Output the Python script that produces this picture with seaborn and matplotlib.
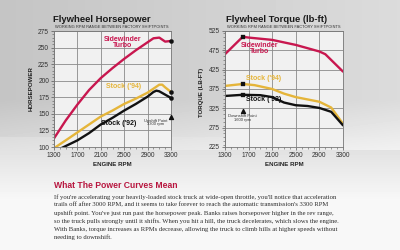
import numpy as np
import pandas as pd
import seaborn as sns
import matplotlib.pyplot as plt
from matplotlib.ticker import MultipleLocator

# flywheel horsepower
hp_turbo_rpm = [1300, 1500, 1700, 1900, 2100, 2300, 2500, 2700, 2900, 3000, 3100, 3200, 3300]
hp_turbo = [113, 140, 164, 186, 204, 219, 233, 246, 258, 264, 265, 259, 260]
hp_94_rpm = [1330, 1500, 1700, 1900, 2100, 2300, 2500, 2700, 2900, 3000, 3100, 3150, 3200, 3300]
hp_94 = [100, 110, 122, 134, 146, 155, 165, 173, 182, 188, 194, 194, 190, 183]
hp_92_rpm = [1420, 1700, 1900, 2100, 2300, 2500, 2700, 2900, 3000, 3050, 3100, 3200, 3300]
hp_92 = [98, 110, 121, 134, 144, 155, 165, 176, 183, 185, 184, 179, 174]

# flywheel torque (lb-ft)
tq_turbo_rpm = [1300, 1600, 1700, 2100, 2500, 2900, 3000, 3300]
tq_turbo = [465, 510, 508, 502, 489, 472, 465, 420]
tq_94_rpm = [1300, 1600, 1800, 2100, 2300, 2500, 2700, 2900, 3100, 3300]
tq_94 = [383, 388, 385, 375, 363, 354, 348, 342, 327, 285]
tq_92_rpm = [1300, 1600, 1900, 2100, 2300, 2500, 2700, 2900, 3100, 3300]
tq_92 = [357, 360, 359, 354, 340, 333, 331, 326, 316, 281]

series_names = ['Sidewinder Turbo', "Stock ('94)", "Stock ('92)"]
RED = '#c8174f'
YEL = '#e5b53a'
BLK = '#111111'
palette = dict(zip(series_names, [RED, YEL, BLK]))

paragraph = [
    "If you're accelerating your heavily-loaded stock truck at wide-open throttle, you'll notice that acceleration",
    "trails off after 3000 RPM, and it seems to take forever to reach the automatic transmission's 3300 RPM",
    "upshift point. You've just run past the horsepower peak. Banks raises horsepower higher in the rev range,",
    "so the truck pulls strongly until it shifts. When you hit a hill, the truck decelerates, which slows the engine.",
    "With Banks, torque increases as RPMs decrease, allowing the truck to climb hills at higher speeds without",
    "needing to downshift.",
]


def long_frame(parts):
    rows = []
    for name, rpm, vals in parts:
        for r, v in zip(rpm, vals):
            rows.append({'rpm': r, 'value': v, 'series': name})
    return pd.DataFrame(rows)


hp_df = long_frame(zip(series_names, [hp_turbo_rpm, hp_94_rpm, hp_92_rpm],
                       [hp_turbo, hp_94, hp_92]))
tq_df = long_frame(zip(series_names, [tq_turbo_rpm, tq_94_rpm, tq_92_rpm],
                       [tq_turbo, tq_94, tq_92]))

# end-of-range dots on hp, 1600 rpm squares on torque
hp_dots = pd.DataFrame({'rpm': [3300, 3300, 3300],
                        'value': [hp_turbo[-1], hp_94[-1], hp_92[-1]]})
tq_dots = pd.DataFrame({'rpm': [1600, 1600, 1600],
                        'value': [tq_turbo[1], tq_94[1], tq_92[1]]})

sns.set_style('white')
plt.rcParams['font.family'] = ['Liberation Sans', 'DejaVu Sans']

fig = plt.figure(figsize=(4, 2.5), dpi=100)

# brushed-metal page background
bg = fig.add_axes([0, 0, 1, 1], zorder=-5)
yy, xx = np.mgrid[0:1:250j, 0:1:400j]
shade = 0.80 + 0.17 * np.clip((yy - 0.40) / 0.40, 0, 1) + 0.06 * xx * (yy < 0.6)
shade = np.clip(shade - 0.03 * (1 - xx) * (yy < 0.55), 0, 1)
bg.imshow(shade, cmap='gray', vmin=0, vmax=1, aspect='auto', extent=[0, 1, 0, 1])
bg.axis('off')


def fx(px):
    return px / 400


def fy(py):
    return 1 - py / 250


def style_axes(ax, ylo, yhi, ystep, yminor):
    ax.set_facecolor('#f1f1f1')
    ax.set_xlim(1300, 3300)
    ax.set_ylim(ylo, yhi)
    ax.set_xticks(range(1300, 3301, 400))
    ax.set_yticks(range(ylo, yhi + 1, ystep))
    ax.xaxis.set_minor_locator(MultipleLocator(100))
    ax.yaxis.set_minor_locator(MultipleLocator(yminor))
    ax.grid(True, which='major', color='#8a8a8a', linewidth=0.6)
    ax.tick_params(which='major', length=2.5, width=0.5, color='#555',
                   labelsize=4.8, pad=1, labelcolor='#333',
                   bottom=True, left=True)
    ax.tick_params(which='minor', length=1.3, width=0.4, color='#555',
                   bottom=True, left=True)
    for sp in ax.spines.values():
        sp.set_color('#777')
        sp.set_linewidth(0.6)
    ax.set_xlabel('')
    ax.set_ylabel('')
    leg = ax.get_legend()
    if leg:
        leg.remove()


LAB = 5.0   # curve label size
NOTE = 3.0  # shift point note size

# horsepower
ax1 = fig.add_axes([fx(54), fy(147), fx(171) - fx(54), fy(31) - fy(147)])
sns.lineplot(data=hp_df, x='rpm', y='value', hue='series', palette=palette,
             hue_order=series_names, estimator=None, sort=True,
             linewidth=1.7, ax=ax1)
sns.scatterplot(data=hp_dots, x='rpm', y='value', color=BLK, s=9,
                edgecolor=None, zorder=5, clip_on=False, ax=ax1)
style_axes(ax1, 100, 275, 25, 5)
ax1.scatter([3300], [145], marker='^', s=8, color=BLK, zorder=5, clip_on=False)
ax1.text(3040, 139, 'Upshift Point', fontsize=NOTE, ha='center', va='center',
         color='#333')
ax1.text(3040, 134, '3300 rpm', fontsize=NOTE, ha='center', va='center',
         color='#333')
ax1.text(2470, 257, 'Sidewinder\nTurbo', fontsize=LAB, fontweight='bold',
         color=RED, ha='center', va='center', linespacing=0.8)
ax1.text(2490, 191, "Stock ('94)", fontsize=LAB, fontweight='bold',
         color=YEL, ha='center', va='center')
ax1.text(2400, 135, "Stock ('92)", fontsize=LAB, fontweight='bold',
         color=BLK, ha='center', va='center')

# torque
ax2 = fig.add_axes([fx(225), fy(147), fx(343) - fx(225), fy(31) - fy(147)])
sns.lineplot(data=tq_df, x='rpm', y='value', hue='series', palette=palette,
             hue_order=series_names, estimator=None, sort=True,
             linewidth=1.7, ax=ax2)
sns.scatterplot(data=tq_dots, x='rpm', y='value', color=BLK, s=8, marker='s',
                edgecolor=None, zorder=5, ax=ax2)
style_axes(ax2, 225, 525, 50, 10)
ax2.scatter([1600], [318], marker='^', s=8, color=BLK, zorder=5)
ax2.text(1600, 305, 'Downshift Point', fontsize=NOTE, ha='center',
         va='center', color='#333')
ax2.text(1600, 294, '1600 rpm', fontsize=NOTE, ha='center', va='center',
         color='#333')
ax2.text(1880, 479, 'Sidewinder\nTurbo', fontsize=LAB, fontweight='bold',
         color=RED, ha='center', va='center', linespacing=0.8)
ax2.text(1960, 401, "Stock ('94)", fontsize=LAB, fontweight='bold',
         color=YEL, ha='center', va='center')
ax2.text(1950, 347, "Stock ('92)", fontsize=LAB, fontweight='bold',
         color=BLK, ha='center', va='center')

# titles and axis captions
fig.text(fx(53), fy(20), 'Flywheel Horsepower', fontsize=6.8, fontweight='bold',
         color='#1a1a1a', va='center')
fig.text(fx(55), fy(27), 'WORKING RPM RANGE BETWEEN FACTORY SHIFTPOINTS',
         fontsize=2.9, color='#333', va='center')
fig.text(fx(226), fy(20), 'Flywheel Torque (lb-ft)', fontsize=6.8,
         fontweight='bold', color='#1a1a1a', va='center')
fig.text(fx(227), fy(27), 'WORKING RPM RANGE BETWEEN FACTORY SHIFTPOINTS',
         fontsize=2.9, color='#333', va='center')
fig.text(fx(31), fy(89), 'HORSEPOWER', fontsize=4.4, fontweight='bold',
         rotation=90, ha='center', va='center', color='#222')
fig.text(fx(202), fy(92), 'TORQUE (LB-FT)', fontsize=4.4, fontweight='bold',
         rotation=90, ha='center', va='center', color='#222')
fig.text(fx(112), fy(165), 'ENGINE RPM', fontsize=4.4, fontweight='bold',
         ha='center', va='center', color='#222')
fig.text(fx(284), fy(165), 'ENGINE RPM', fontsize=4.4, fontweight='bold',
         ha='center', va='center', color='#222')

# article text below the charts
fig.text(fx(54), fy(185), 'What The Power Curves Mean', fontsize=6.2,
         fontweight='bold', color='#b8163f', va='center')
for i, line in enumerate(paragraph):
    fig.text(fx(54), fy(197 + 8 * i), line, fontsize=4.8, color='#2a2a2a',
             va='center', family=['Liberation Serif', 'DejaVu Serif'])

fig.savefig('out.png', dpi=100)
